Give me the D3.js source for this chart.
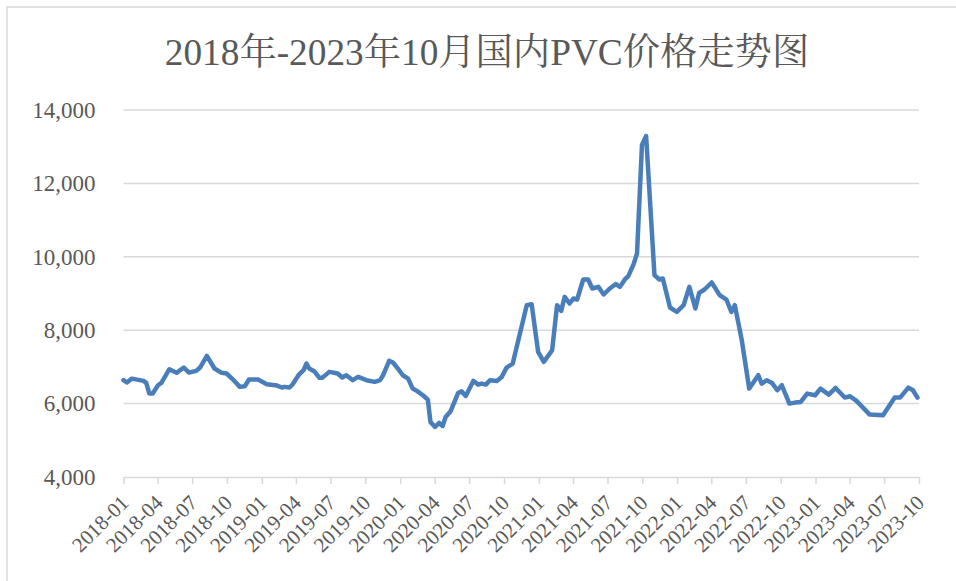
<!DOCTYPE html>
<html>
<head>
<meta charset="utf-8">
<script src="https://cdn.jsdelivr.net/npm/d3@7"></script>
<style>
	body { margin: 0; background: #fff; }
</style>
</head>
<body>
<div id="chart"></div>
<script>

// price series (yuan / tonne)
var dates = [
	"2018-01-01","2018-01-10","2018-01-23","2018-02-23","2018-03-02","2018-03-10","2018-03-19","2018-04-02","2018-04-11","2018-05-02",
	"2018-05-21","2018-06-09","2018-06-23","2018-07-12","2018-07-22","2018-08-09","2018-08-29","2018-09-17","2018-09-30","2018-10-17",
	"2018-11-04","2018-11-17","2018-11-28","2018-12-22","2019-01-14","2019-02-10","2019-02-23","2019-03-02","2019-03-15","2019-03-23",
	"2019-04-09","2019-04-21","2019-04-29","2019-05-06","2019-05-19","2019-06-02","2019-06-09","2019-06-28","2019-07-20","2019-08-01",
	"2019-08-12","2019-08-29","2019-09-12","2019-10-04","2019-10-26","2019-11-09","2019-11-17","2019-12-03","2019-12-13","2019-12-26",
	"2020-01-08","2020-01-22","2020-02-03","2020-02-14","2020-03-01","2020-03-14","2020-03-21","2020-04-02","2020-04-13","2020-04-22",
	"2020-04-30","2020-05-13","2020-06-02","2020-06-11","2020-06-22","2020-07-12","2020-07-25","2020-08-03","2020-08-14","2020-08-25",
	"2020-09-12","2020-09-25","2020-10-08","2020-10-24","2020-11-30","2020-12-13","2020-12-30","2021-01-14","2021-02-05","2021-02-18",
	"2021-03-01","2021-03-10","2021-03-23","2021-04-02","2021-04-12","2021-04-28","2021-05-11","2021-05-22","2021-06-07","2021-06-21",
	"2021-07-07","2021-07-23","2021-08-03","2021-08-16","2021-08-25","2021-09-08","2021-09-17","2021-09-30","2021-10-11","2021-11-02",
	"2021-11-15","2021-11-24","2021-12-13","2021-12-31","2022-01-18","2022-02-02","2022-02-18","2022-02-28","2022-03-14","2022-04-02",
	"2022-04-23","2022-05-11","2022-05-24","2022-06-02","2022-06-20","2022-07-10","2022-08-03","2022-08-12","2022-08-25","2022-09-08",
	"2022-09-22","2022-10-04","2022-10-24","2022-11-08","2022-11-23","2022-12-10","2022-12-31","2023-01-14","2023-02-05","2023-02-23",
	"2023-03-19","2023-04-02","2023-04-19","2023-05-24","2023-06-28","2023-07-29","2023-08-12","2023-09-03","2023-09-15","2023-09-27"
];
var prices = [
	6640,6575,6680,6620,6565,6275,6275,6500,6565,6937,
	6838,6983,6847,6892,6983,7300,6956,6838,6820,6656,
	6456,6474,6656,6656,6529,6492,6438,6456,6438,6520,
	6792,6910,7092,6956,6883,6701,6701,6865,6820,6711,
	6774,6638,6729,6638,6593,6640,6773,7164,7120,6955,
	6773,6682,6409,6346,6227,6109,5500,5364,5473,5391,
	5636,5791,6291,6336,6209,6618,6518,6545,6518,6636,
	6618,6727,6982,7091,8682,8709,7409,7136,7455,8682,
	8527,8909,8727,8864,8836,9382,9382,9136,9182,8973,
	9136,9255,9182,9382,9473,9800,10091,13045,13291,9500,
	9382,9409,8618,8500,8682,9182,8591,9018,9109,9300,
	8955,8830,8500,8682,7750,6409,6773,6545,6636,6564,
	6364,6500,6000,6027,6045,6273,6227,6409,6245,6427,
	6164,6200,6073,5700,5682,6164,6164,6436,6364,6164
];

var xTickLabels = [
	"2018-01","2018-04","2018-07","2018-10","2019-01","2019-04","2019-07","2019-10",
	"2020-01","2020-04","2020-07","2020-10","2021-01","2021-04","2021-07","2021-10",
	"2022-01","2022-04","2022-07","2022-10","2023-01","2023-04","2023-07","2023-10"
];
var yTicks = [4000, 6000, 8000, 10000, 12000, 14000];

var title = "2018年-2023年10月国内PVC价格走势图";

var width = 956, height = 581;
var margin = { left: 123.5, right: 37, top: 110, bottom: 104 };
var fontFamily = "'Liberation Serif', 'Times New Roman', 'Noto Serif CJK SC', 'Noto Sans CJK SC', serif";
var textColor = "#595959";
var gridColor = "#d9d9d9";

var parseDate = d3.timeParse("%Y-%m-%d");
var parseMonth = d3.timeParse("%Y-%m");

var data = dates.map(function(d, i){ return { date: parseDate(d), value: prices[i] }; });
var tickDates = xTickLabels.map(function(d){ return parseMonth(d); });

var svg = d3.select("#chart").append("svg")
	.attr("width", width)
	.attr("height", height);

// outer frame
svg.append("rect")
	.attr("x", 7)
	.attr("y", 7)
	.attr("width", width + 20)
	.attr("height", height + 20)
	.attr("fill", "#fff")
	.attr("stroke", gridColor)
	.attr("stroke-width", 1.5);

// scales
var x = d3.scaleTime()
	.domain([tickDates[0], tickDates[tickDates.length - 1]])
	.range([margin.left, width - margin.right]);

var y = d3.scaleLinear()
	.domain([4000, 14000])
	.range([height - margin.bottom, margin.top]);

// title
svg.append("text")
	.attr("x", 487)
	.attr("y", 65)
	.attr("font-family", fontFamily)
	.attr("font-size", 37.3)
	.attr("fill", textColor)
	.style("text-anchor", "middle")
	.text(title);

// horizontal grid lines (skip the base, the axis draws it)
svg.append("g")
	.selectAll("line")
	.data(yTicks.slice(1))
	.enter().append("line")
	.attr("x1", margin.left)
	.attr("x2", width - margin.right)
	.attr("y1", function(d){ return y(d); })
	.attr("y2", function(d){ return y(d); })
	.attr("stroke", gridColor)
	.attr("stroke-width", 1.5);

// y axis labels
var yAxis = d3.axisLeft(y)
	.tickValues(yTicks)
	.tickSize(0)
	.tickPadding(28)
	.tickFormat(d3.format(","));

var yG = svg.append("g")
	.attr("transform", "translate(" + margin.left + ",0)")
	.call(yAxis);
yG.select(".domain").remove();
yG.selectAll("text")
	.attr("font-family", fontFamily)
	.attr("font-size", 23)
	.attr("fill", textColor);

// x axis
var xAxis = d3.axisBottom(x)
	.tickValues(tickDates)
	.tickSize(7)
	.tickSizeOuter(0)
	.tickFormat(function(d, i){ return xTickLabels[i]; });

var xG = svg.append("g")
	.attr("transform", "translate(0," + y(4000) + ")")
	.call(xAxis);
xG.select(".domain")
	.attr("stroke", gridColor)
	.attr("stroke-width", 1.5);
xG.selectAll(".tick line")
	.attr("stroke", gridColor)
	.attr("stroke-width", 1.5);
xG.selectAll("text")
	.attr("font-family", fontFamily)
	.attr("font-size", 21)
	.attr("fill", textColor)
	.attr("y", 0)
	.attr("dy", 0)
	.style("text-anchor", "end")
	.attr("transform", "translate(6,27) rotate(-45)");

// price line
var line = d3.line()
	.x(function(d){ return x(d.date); })
	.y(function(d){ return y(d.value); });

svg.append("path")
	.datum(data)
	.attr("d", line)
	.attr("fill", "none")
	.attr("stroke", "#4a7ebb")
	.attr("stroke-width", 4.5)
	.attr("stroke-linejoin", "round")
	.attr("stroke-linecap", "round");

</script>
</body>
</html>
